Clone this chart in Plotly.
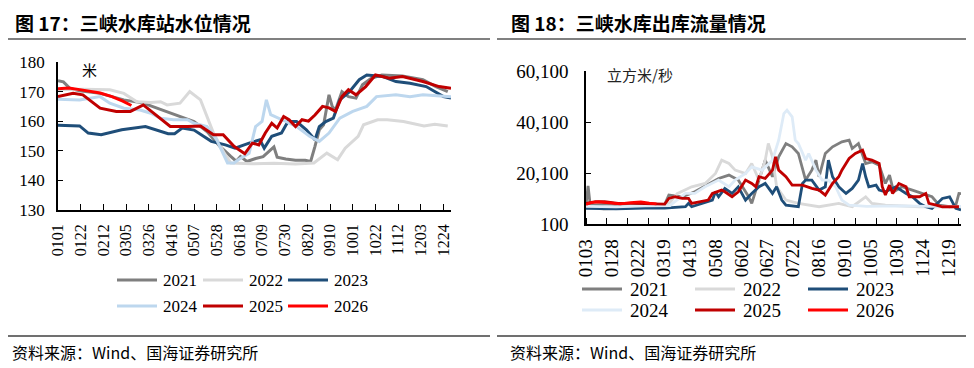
import plotly.graph_objects as go
import pandas as pd

# ---------------- data ----------------
years = ["2021", "2022", "2023", "2024", "2025", "2026"]

# Left chart: water level (m)
lvl_2021_d = ["0101","0106","0112","0121","0209","0303","0321","0412","0424","0507","0519","0531","0610","0615","0619","0625","0703","0710","0720","0723","0731","0809","0818","0823","0827","0831","0904","0909","0912","0915","0921","0927","1004","1010","1018","1028","1116","1205","1217","1228"]
lvl_2021_v = [173.7,173.3,171.1,170.3,169.4,167.2,166.1,163.3,161.6,159.9,156.5,151.5,148.1,146.5,148.1,146.4,147.4,148.0,151.3,147.8,147.2,146.8,146.8,146.4,151.5,157.1,158.8,168.9,165.0,163.8,170.0,168.3,167.8,172.3,174.5,175.6,175.3,174.0,171.7,170.0]

lvl_2022_d = ["0101","0124","0218","0303","0315","0328","0406","0412","0424","0503","0513","0519","0525","0604","0610","0630","0720","0809","0826","0907","0917","0924","1002","1006","1011","1024","1102","1117","1206","1216","1228"]
lvl_2022_v = [170.6,170.8,170.6,169.4,166.6,166.3,166.6,165.5,166.1,170.0,167.2,161.6,156.0,149.2,145.9,145.6,145.8,145.5,145.9,149.2,147.0,150.9,153.7,154.9,158.8,160.5,160.5,159.9,158.4,159.0,158.4]

lvl_2023_d = ["0101","0121","0129","0210","0301","0323","0413","0419","0426","0507","0523","0605","0614","0618","0627","0707","0711","0718","0727","0802","0810","0819","0827","0831","0906","0913","0919","0928","1007","1014","1029","1110","1123","1208","1224","1231"]
lvl_2023_v = [158.6,158.4,156.0,155.4,157.1,158.2,155.8,155.8,157.7,157.0,153.2,152.0,150.9,151.5,152.6,153.7,150.9,154.9,156.0,159.9,159.9,157.1,153.7,158.2,159.9,161.0,167.2,170.0,174.0,175.6,175.1,173.4,172.8,171.7,168.3,167.8]

lvl_2024_d = ["0101","0121","0209","0218","0303","0318","0328","0406","0418","0501","0507","0513","0519","0528","0607","0613","0617","0627","0703","0709","0713","0717","0721","0731","0810","0822","0831","0909","0919","1001","1014","1023","1110","1123","1205","1224","1231"]
lvl_2024_v = [167.4,167.2,168.3,166.1,164.4,163.8,162.7,161.0,160.5,160.5,159.3,158.8,158.2,153.7,145.9,145.9,147.0,149.2,158.2,159.9,167.2,162.2,161.6,159.9,158.2,154.9,153.2,156.0,161.0,163.3,165.0,168.3,168.9,168.3,168.9,168.3,168.3]

lvl_2025_d = ["0101","0115","0124","0209","0224","0309","0321","0403","0415","0501","0513","0525","0603","0613","0623","0630","0706","0712","0718","0723","0729","0803","0809","0815","0821","0827","0903","0909","0915","0921","0927","1004","1013","1022","1104","1116","1205","1220","1231"]
lvl_2025_v = [168.3,169.4,168.9,164.4,163.3,163.3,165.5,161.6,158.2,158.2,158.4,155.4,155.4,151.5,149.0,152.6,152.0,156.0,159.3,157.7,161.6,160.5,158.2,160.5,160.0,162.1,165.0,164.5,163.3,168.3,170.6,168.9,171.7,175.6,174.5,175.1,173.4,171.7,171.1]

lvl_2026_d = ["0101","0111","0124","0209","0220","0302","0310"]
lvl_2026_v = [171.0,171.2,170.5,169.5,168.3,166.8,165.3]

# Right chart: outflow (m3/s)
flow_2021_d = ["0103","0105","0107","0111","0125","0215","0305","0320","0324","0406","0418","0511","0521","0530","0609","0612","0619","0625","0702","0708","0715","0721","0727","0803","0809","0813","0816","0822","0829","0907","0914","0917","0923","0930","1006","1013","1019","1023","1027","1104","1114","1124","1203","1210","1220","1226","1229","1231"]
flow_2021_v = [7500,15000,7800,7500,7900,7200,7800,7800,11440,10780,12750,17960,19270,17310,10780,8180,17310,25140,18620,26450,31660,30360,27750,17310,21220,25140,18620,27750,30360,32320,32970,29710,31660,23830,24490,23180,16010,19270,12740,14700,13400,12090,10780,7520,6870,7520,12090,12000]

flow_2022_d = ["0103","0110","0120","0201","0215","0301","0315","0325","0401","0409","0415","0428","0508","0514","0521","0527","0606","0612","0619","0625","0628","0702","0706","0715","0727","0816","0904","0917","0930","1006","1019","1121","1231"]
flow_2022_v = [6500,6800,5800,6200,7200,6500,6800,8500,12000,13400,14700,16010,19920,25140,23830,21220,19920,23830,17310,25140,31660,26450,14700,9480,8180,6870,8180,6870,10780,8180,7520,6870,6870]

flow_2023_d = ["0103","0201","0301","0320","0409","0412","0415","0505","0508","0511","0517","0524","0530","0606","0612","0619","0625","0702","0706","0711","0715","0727","0731","0803","0809","0816","0822","0825","0829","0904","0911","0917","0923","0927","0930","1003","1010","1013","1019","1029","1108","1114","1121","1127","1203","1213","1220","1226","1231"]
flow_2023_v = [6200,6000,6300,6300,6870,8180,6870,9480,12740,10780,14050,12090,14700,9480,12090,14700,16010,12090,14700,9480,7520,6870,16010,17310,17310,13400,14700,25140,18620,14700,12090,14050,17310,23830,18620,14700,15340,13400,12740,14700,12090,10780,8180,6870,6220,10130,10780,6220,5600]

flow_2024_d = ["0103","0201","0301","0325","0409","0418","0428","0511","0521","0527","0606","0612","0622","0702","0708","0713","0716","0721","0724","0727","0803","0806","0813","0819","0825","0901","0907","0914","1001","1101","1201","1231"]
flow_2024_v = [7000,6800,7200,7300,12090,12090,14700,17310,14700,17310,19920,22530,21220,25140,32970,43410,44720,42100,32970,31660,25140,27750,21220,17310,17310,14700,9480,7520,7000,7200,7000,7000]

flow_2025_d = ["0103","0112","0121","0203","0219","0308","0320","0324","0330","0406","0412","0415","0425","0501","0505","0514","0517","0524","0530","0606","0612","0616","0619","0625","0702","0705","0708","0715","0721","0731","0809","0816","0822","0829","0904","0907","0914","0920","0927","0930","1006","1013","1016","1019","1023","1026","1101","1108","1111","1121","1127","1130","1207","1213","1229"]
flow_2025_v = [8180,8830,8830,8180,8180,7910,7910,10130,10780,10130,10130,8180,8830,9480,12090,13400,12740,10780,12740,17310,16010,14700,18620,17960,21220,26450,21220,18620,15340,15340,14050,13400,11440,16010,18620,21220,25790,27750,29050,25790,25140,23830,14700,11440,15340,12090,16010,14700,10780,10780,12090,8180,7520,6870,6870]

flow_2026_d = ["0103","0108","0115","0125","0205","0215","0225","0305","0312"]
flow_2026_v = [7800,8500,8800,8400,8000,8500,8800,8300,8000]

left_ticks = ["0101","0122","0212","0305","0326","0416","0507","0528","0618","0709","0730","0820","0910","1001","1022","1112","1203","1224"]
right_ticks = ["0103","0128","0222","0319","0413","0508","0602","0627","0722","0816","0910","1005","1030","1124","1219"]
left_yticks = [130, 140, 150, 160, 170, 180]
right_yticks = [100, 20100, 40100, 60100]

left_series = [lvl_2021_d, lvl_2022_d, lvl_2023_d, lvl_2024_d, lvl_2025_d, lvl_2026_d]
left_vals = [lvl_2021_v, lvl_2022_v, lvl_2023_v, lvl_2024_v, lvl_2025_v, lvl_2026_v]
right_series = [flow_2021_d, flow_2022_d, flow_2023_d, flow_2024_d, flow_2025_d, flow_2026_d]
right_vals = [flow_2021_v, flow_2022_v, flow_2023_v, flow_2024_v, flow_2025_v, flow_2026_v]

left_colors = ["#7F7F7F", "#D9D9D9", "#1F4E79", "#BDD7EE", "#C00000", "#FF0000"]
right_colors = ["#7F7F7F", "#D9D9D9", "#1F4E79", "#DEEBF7", "#C00000", "#FF0000"]

# ---------------- helpers ----------------
W, H = 974, 368
OFF = 8  # the page body offsets the figure by 8px; layout positions compensate
def dt(mmdd):
    return pd.to_datetime(["2021" + s for s in mmdd], format="%Y%m%d")
def px(x):
    return (x - OFF) / W
def py(y):
    return 1 - (y - OFF) / H

SERIF = "Liberation Serif"
CJK = "Noto Sans CJK SC"

fig = go.Figure()
for i, y in enumerate(years):
    fig.add_trace(go.Scatter(x=dt(left_series[i]), y=left_vals[i], mode="lines", name=y,
                             line=dict(color=left_colors[i], width=3), xaxis="x", yaxis="y",
                             showlegend=False))
for i, y in enumerate(years):
    fig.add_trace(go.Scatter(x=dt(right_series[i]), y=right_vals[i], mode="lines", name=y,
                             line=dict(color=right_colors[i], width=2.8), xaxis="x2", yaxis="y2",
                             showlegend=False))

axis_common = dict(showgrid=False, zeroline=False, showline=True, linecolor="black", linewidth=1.5,
                   tickcolor="black", ticks="inside", automargin=False)

fig.update_layout(
    width=W, height=H, margin=dict(l=0, r=0, t=0, b=0, pad=0, autoexpand=False),
    paper_bgcolor="white", plot_bgcolor="white", showlegend=False,
    xaxis=dict(domain=[px(58), px(451)], anchor="y", type="date",
               range=["2021-01-01", "2021-12-31"],
               tickmode="array", tickvals=dt(left_ticks), ticktext=left_ticks,
               tickangle=-90, ticklen=6, ticklabelstandoff=6,
               tickfont=dict(family=SERIF, size=16, color="black"), **axis_common),
    yaxis=dict(domain=[py(210), py(62)], anchor="x", range=[130, 180],
               tickmode="array", tickvals=left_yticks, ticklen=5, ticklabelstandoff=8,
               tickfont=dict(family=SERIF, size=17, color="black"), **axis_common),
    xaxis2=dict(domain=[px(586), px(961)], anchor="y2", type="date",
                range=["2021-01-03", "2021-12-31"],
                tickmode="array", tickvals=dt(right_ticks), ticktext=right_ticks,
                tickangle=-90, ticklabelstandoff=6,
                minor=dict(ticks="inside", ticklen=6, tickcolor="black",
                           tick0="2021-01-03", dtick=20 * 86400000),
                tickfont=dict(family=SERIF, size=19, color="black"),
                showgrid=False, zeroline=False, showline=True, linecolor="black", linewidth=1.5,
                ticks="", automargin=False),
    yaxis2=dict(domain=[py(224), py(71)], anchor="x2", range=[100, 60100],
                tickmode="array", tickvals=right_yticks, tickformat=",d", ticklen=5,
                ticklabelstandoff=12,
                tickfont=dict(family=SERIF, size=19, color="black"), **axis_common),
)

shapes = []
annotations = []
# titles and rules
annotations.append(dict(text="<b>图 17：三峡水库站水位情况</b>", x=px(13), y=py(22), xref="paper", yref="paper",
                         xanchor="left", yanchor="middle", showarrow=False,
                         font=dict(family=CJK, size=19, color="black")))
annotations.append(dict(text="<b>图 18：三峡水库出库流量情况</b>", x=px(509), y=py(22), xref="paper", yref="paper",
                         xanchor="left", yanchor="middle", showarrow=False,
                         font=dict(family=CJK, size=19, color="black")))
for x0, x1 in [(0, 490), (497, 974)]:
    shapes.append(dict(type="line", xref="paper", yref="paper", x0=px(x0), x1=px(x1), y0=py(39), y1=py(39),
                       line=dict(color="#808080", width=2)))
    shapes.append(dict(type="line", xref="paper", yref="paper", x0=px(x0), x1=px(x1), y0=py(336), y1=py(336),
                       line=dict(color="#404040", width=1.5)))
for x in [10, 508]:
    annotations.append(dict(text="资料来源：Wind、国海证券研究所", x=px(x), y=py(352), xref="paper", yref="paper",
                             xanchor="left", yanchor="middle", showarrow=False,
                             font=dict(family=CJK, size=16, color="black")))
# units
annotations.append(dict(text="米", x=px(80), y=py(69), xref="paper", yref="paper", xanchor="left",
                         yanchor="middle", showarrow=False, font=dict(family=CJK, size=15, color="black")))
annotations.append(dict(text="立方米/秒", x=px(605), y=py(74), xref="paper", yref="paper", xanchor="left",
                         yanchor="middle", showarrow=False, font=dict(family=CJK, size=15, color="#222222")))

# legends (drawn manually)
def legend(cols, rows, line_len, gap, colors, size):
    for i, y in enumerate(years):
        r, c = divmod(i, 3)
        x0 = cols[c]
        yy = rows[r]
        shapes.append(dict(type="line", xref="paper", yref="paper", x0=px(x0), x1=px(x0 + line_len),
                           y0=py(yy), y1=py(yy), line=dict(color=colors[i], width=3)))
        annotations.append(dict(text=y, x=px(x0 + line_len + gap), y=py(yy), xref="paper", yref="paper",
                                 xanchor="left", yanchor="middle", showarrow=False,
                                 font=dict(family=SERIF, size=size, color="black")))

legend([117, 203, 288], [280, 306], 40, 4, left_colors, 17)
legend([582, 695, 808], [289, 310], 40, 6, right_colors, 19)

fig.update_layout(shapes=shapes, annotations=annotations)
fig.write_html("out.html")
